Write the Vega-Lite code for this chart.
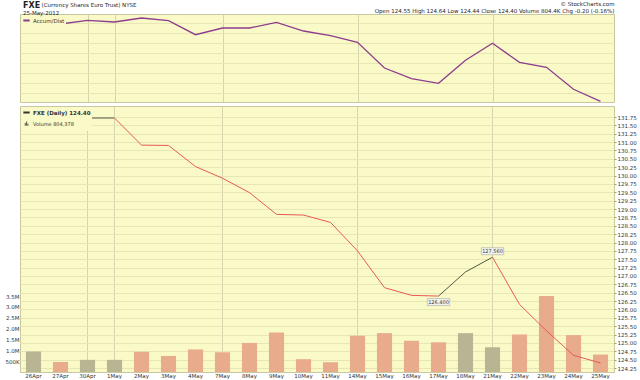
{
  "$schema": "https://vega.github.io/schema/vega-lite/v6.json",
  "background": "white",
  "padding": {"left": 4, "top": 0, "right": 0, "bottom": 0},
  "spacing": 0,
  "config": {
    "font": "DejaVu Sans",
    "view": {"fill": "#fafac8", "stroke": "#c9c7a0", "strokeWidth": 1},
    "axis": {"domain": false, "labelFontSize": 5.5, "labelColor": "#333333", "tickColor": "#999977", "tickSize": 2, "gridColor": "#e8e6b2", "gridWidth": 1, "titleColor": "#222222", "titleFontWeight": "normal"},
    "legend": {"labelFontSize": 5.5, "labelColor": "#333333", "padding": 1, "offset": 1, "rowPadding": 0, "fillColor": "#fafac8", "labelOffset": 2}
  },
  "datasets": {
    "fxe": [
      {"d": "26Apr", "close": 131.70, "vol": 940000, "ad": 86.3, "dir": "up"},
      {"d": "27Apr", "close": 131.71, "vol": 460000, "ad": 79.0, "dir": "down"},
      {"d": "30Apr", "close": 131.72, "vol": 560000, "ad": 82.7, "dir": "up"},
      {"d": "1May", "close": 131.72, "vol": 560000, "ad": 81.0, "dir": "up"},
      {"d": "2May", "close": 130.91, "vol": 930000, "ad": 85.0, "dir": "down"},
      {"d": "3May", "close": 130.90, "vol": 740000, "ad": 82.3, "dir": "down"},
      {"d": "4May", "close": 130.27, "vol": 1040000, "ad": 68.3, "dir": "down"},
      {"d": "7May", "close": 129.92, "vol": 910000, "ad": 75.0, "dir": "down"},
      {"d": "8May", "close": 129.49, "vol": 1340000, "ad": 75.0, "dir": "down"},
      {"d": "9May", "close": 128.84, "vol": 1820000, "ad": 80.7, "dir": "down"},
      {"d": "10May", "close": 128.82, "vol": 590000, "ad": 72.0, "dir": "down"},
      {"d": "11May", "close": 128.60, "vol": 450000, "ad": 67.3, "dir": "down"},
      {"d": "14May", "close": 127.75, "vol": 1670000, "ad": 60.7, "dir": "down"},
      {"d": "15May", "close": 126.65, "vol": 1790000, "ad": 35.0, "dir": "down"},
      {"d": "16May", "close": 126.42, "vol": 1440000, "ad": 24.3, "dir": "down"},
      {"d": "17May", "close": 126.40, "vol": 1370000, "ad": 19.7, "dir": "down"},
      {"d": "18May", "close": 127.12, "vol": 1790000, "ad": 42.7, "dir": "up"},
      {"d": "21May", "close": 127.56, "vol": 1140000, "ad": 59.7, "dir": "up"},
      {"d": "22May", "close": 126.15, "vol": 1730000, "ad": 40.7, "dir": "down"},
      {"d": "23May", "close": 125.36, "vol": 3500000, "ad": 35.7, "dir": "down"},
      {"d": "24May", "close": 124.63, "vol": 1700000, "ad": 13.7, "dir": "down"},
      {"d": "25May", "close": 124.40, "vol": 804378, "ad": 1.7, "dir": "down"}
    ]
  },
  "data": {"name": "fxe"},
  "resolve": {
    "scale": {"x": "independent", "y": "independent", "color": "independent", "opacity": "independent"},
    "legend": {"color": "independent", "opacity": "independent"}
  },
  "vconcat": [
    {
      "width": 594,
      "height": 88,
      "title": {"text": "FXE", "subtitle": "25-May-2012", "anchor": "start", "frame": "group", "dx": 3, "fontSize": 8, "fontWeight": "bold", "subtitleFontSize": 5.5, "subtitlePadding": 1, "offset": -15, "color": "#222222", "subtitleColor": "#222222"},
      "mark": {"type": "line", "strokeWidth": 1.3},
      "encoding": {
        "x": {
          "field": "d", "type": "ordinal", "sort": null,
          "scale": {"domain": ["26Apr","27Apr","30Apr","1May","2May","3May","4May","7May","8May","9May","10May","11May","14May","15May","16May","17May","18May","21May","22May","23May","24May","25May"], "paddingInner": 0.44, "paddingOuter": 0.22},
          "axis": {
            "orient": "top", "labels": false, "ticks": false, "bandPosition": 0.5, "grid": true, "gridColor": "#d6d4ac",
            "gridOpacity": {"condition": {"test": "indexof(['30Apr','1May','7May','14May','21May'], datum.value) >= 0", "value": 1}, "value": 0},
            "title": ["© StockCharts.com", "Open 124.55 High 124.64 Low 124.44 Close 124.40 Volume 804.4K Chg -0.20 (-0.16%)"],
            "titleAnchor": "end", "titleFontSize": 5.5, "titlePadding": 1, "titleLineHeight": 7
          }
        },
        "y": {
          "field": "ad", "type": "quantitative",
          "scale": {"domain": [1, 89], "zero": false, "nice": false},
          "axis": {
            "labels": false, "ticks": false, "grid": true, "values": [10, 20, 30, 40, 50, 60, 70, 80],
            "title": "(Currency Shares Euro Trust) NYSE", "titleAngle": 0, "titleX": 21, "titleY": -8,
            "titleAlign": "left", "titleBaseline": "alphabetic", "titleFontSize": 5.5
          }
        },
        "color": {
          "datum": "Accum/Dist", "type": "nominal",
          "scale": {"range": ["#8e3c8e"]},
          "legend": {"orient": "top-left", "title": null, "symbolType": "stroke", "symbolStrokeWidth": 2, "symbolSize": 40}
        }
      }
    },
    {
      "width": 594,
      "height": 266,
      "resolve": {"scale": {"y": "independent"}},
      "layer": [
        {
          "mark": {"type": "bar"},
          "encoding": {
            "x": {
              "field": "d", "type": "ordinal", "sort": null,
              "scale": {"domain": ["26Apr","27Apr","30Apr","1May","2May","3May","4May","7May","8May","9May","10May","11May","14May","15May","16May","17May","18May","21May","22May","23May","24May","25May"], "paddingInner": 0.44, "paddingOuter": 0.22},
              "axis": {
                "title": null, "labelAngle": 0, "labelPadding": 1, "ticks": false, "bandPosition": 0.5,
                "grid": true, "gridColor": "#d6d4ac",
                "gridOpacity": {"condition": {"test": "indexof(['30Apr','1May','7May','14May','21May'], datum.value) >= 0", "value": 1}, "value": 0}
              }
            },
            "y": {
              "field": "vol", "type": "quantitative",
              "scale": {"domain": [0, 12260000], "nice": false},
              "axis": {
                "orient": "left", "title": null, "grid": false, "ticks": false, "labelPadding": 1,
                "values": [500000, 1000000, 1500000, 2000000, 2500000, 3000000, 3500000],
                "labelExpr": "datum.value < 1000000 ? format(datum.value / 1000, 'd') + 'K' : format(datum.value / 1000000, '.1f') + 'M'"
              }
            },
            "color": {"field": "dir", "type": "nominal", "scale": {"domain": ["up", "down"], "range": ["#b8b592", "#e8ab8c"]}, "legend": null},
            "opacity": {
              "datum": "Volume 804,378", "type": "ordinal",
              "scale": {"domain": ["FXE (Daily) 124.40", "Volume 804,378"], "range": [1, 1]},
              "legend": {
                "orient": "top-left", "title": null, "symbolType": "stroke", "symbolStrokeWidth": 2, "symbolSize": 40,
                "symbolStrokeColor": "#333333", "symbolFillColor": "#666655", "symbolOpacity": 1,
                "encode": {
                  "symbols": {"update": {
                    "shape": {"signal": "datum.value == 'Volume 804,378' ? 'M-0.8,1V-0.2H-0.3V1ZM-0.2,1V-0.9H0.3V1ZM0.4,1V0.1H0.9V1Z' : 'stroke'"},
                    "fill": {"signal": "datum.value == 'Volume 804,378' ? '#666655' : 'transparent'"},
                    "stroke": {"signal": "datum.value == 'Volume 804,378' ? 'transparent' : '#333333'"},
                    "size": {"signal": "datum.value == 'Volume 804,378' ? 20 : 40"},
                    "opacity": {"value": 1}
                  }},
                  "labels": {"update": {
                    "fontWeight": {"signal": "datum.value == 'Volume 804,378' ? 'normal' : 'bold'"},
                    "fontSize": {"signal": "datum.value == 'Volume 804,378' ? 5 : 5.5"}
                  }}
                }
              }
            }
          }
        },
        {
          "transform": [
            {"window": [{"op": "lead", "field": "close", "as": "nclose"}, {"op": "lead", "field": "d", "as": "nd"}]},
            {"filter": "datum.nd != null"}
          ],
          "mark": {"type": "rule", "strokeWidth": 1},
          "encoding": {
            "x": {"field": "d", "type": "ordinal", "sort": null, "bandPosition": 0.5},
            "x2": {"field": "nd", "bandPosition": 0.5},
            "y": {
              "field": "close", "type": "quantitative",
              "scale": {"domain": [124.1305, 132.0787], "nice": false, "zero": false},
              "axis": {
                "orient": "right", "title": null, "grid": true, "format": ".2f", "tickSize": 2, "labelPadding": 1,
                "values": [124.25,124.5,124.75,125,125.25,125.5,125.75,126,126.25,126.5,126.75,127,127.25,127.5,127.75,128,128.25,128.5,128.75,129,129.25,129.5,129.75,130,130.25,130.5,130.75,131,131.25,131.5,131.75]
              }
            },
            "y2": {"field": "nclose"},
            "color": {"condition": {"test": "datum.nclose >= datum.close", "value": "#555544"}, "value": "#e8585b"},
            "opacity": {"datum": "FXE (Daily) 124.40", "type": "ordinal"}
          }
        },
        {
          "transform": [{"filter": "datum.d == '17May'"}],
          "layer": [
            {
              "mark": {"type": "point", "shape": "M-1.6,-0.5H1.6V0.5H-1.6Z", "size": 196, "filled": true, "fill": "#f4f4ee", "stroke": "#999999", "strokeWidth": 0.5, "opacity": 1, "yOffset": 6},
              "encoding": {
                "x": {"field": "d", "type": "ordinal", "sort": null},
                "y": {"field": "close", "type": "quantitative", "scale": {"domain": [124.1305, 132.0787], "nice": false, "zero": false}, "axis": null}
              }
            },
            {
              "mark": {"type": "text", "fontSize": 5, "color": "#333333", "baseline": "middle", "dy": 6},
              "encoding": {
                "x": {"field": "d", "type": "ordinal", "sort": null},
                "y": {"field": "close", "type": "quantitative", "scale": {"domain": [124.1305, 132.0787], "nice": false, "zero": false}, "axis": null},
                "text": {"field": "close", "type": "quantitative", "format": ".3f"}
              }
            }
          ]
        },
        {
          "transform": [{"filter": "datum.d == '21May'"}],
          "layer": [
            {
              "mark": {"type": "point", "shape": "M-1.6,-0.5H1.6V0.5H-1.6Z", "size": 196, "filled": true, "fill": "#f4f4ee", "stroke": "#999999", "strokeWidth": 0.5, "opacity": 1, "yOffset": -6},
              "encoding": {
                "x": {"field": "d", "type": "ordinal", "sort": null},
                "y": {"field": "close", "type": "quantitative", "scale": {"domain": [124.1305, 132.0787], "nice": false, "zero": false}, "axis": null}
              }
            },
            {
              "mark": {"type": "text", "fontSize": 5, "color": "#333333", "baseline": "middle", "dy": -6},
              "encoding": {
                "x": {"field": "d", "type": "ordinal", "sort": null},
                "y": {"field": "close", "type": "quantitative", "scale": {"domain": [124.1305, 132.0787], "nice": false, "zero": false}, "axis": null},
                "text": {"field": "close", "type": "quantitative", "format": ".3f"}
              }
            }
          ]
        }
      ]
    }
  ]
}
